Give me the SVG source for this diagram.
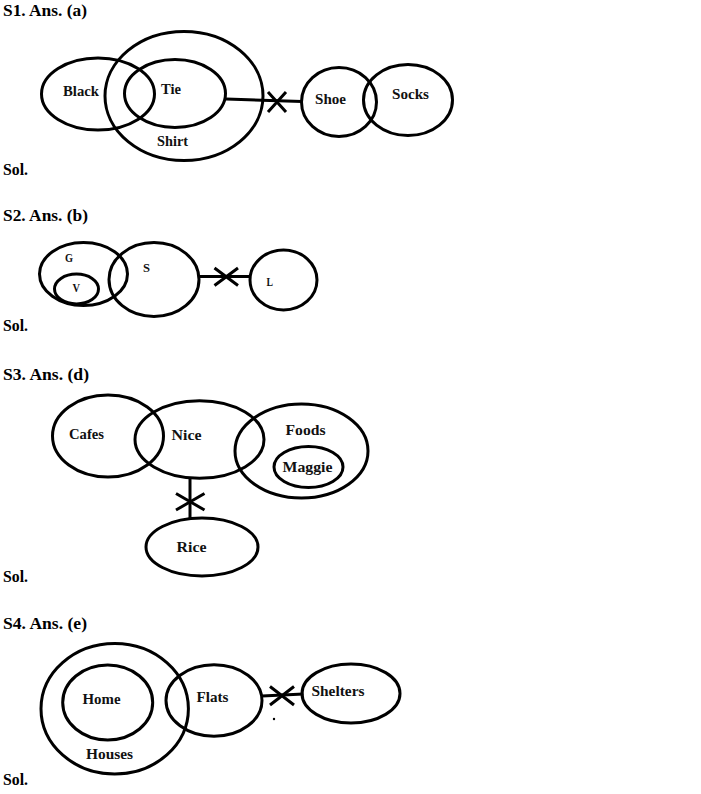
<svg xmlns="http://www.w3.org/2000/svg" width="701" height="794" viewBox="0 0 701 794">
<style>
.e{fill:none;stroke:#000;stroke-width:3}
.c{fill:none;stroke:#000;stroke-width:3}
.t{font-family:"Liberation Serif","DejaVu Serif",serif;font-weight:bold;font-size:16px;fill:#000}
.l{font-family:"Liberation Serif","DejaVu Serif",serif;font-weight:bold;font-size:15px;fill:#111}
.s{font-family:"Liberation Serif","DejaVu Serif",serif;font-weight:bold;font-size:12px;fill:#111}
</style>
<rect width="701" height="794" fill="#fff"/>
<g id="headings">
<text class="t" x="3" y="16" textLength="84" lengthAdjust="spacingAndGlyphs">S1. Ans. (a)</text>
<text class="t" x="3" y="175" textLength="25" lengthAdjust="spacingAndGlyphs">Sol.</text>
<text class="t" x="3" y="221" textLength="85" lengthAdjust="spacingAndGlyphs">S2. Ans. (b)</text>
<text class="t" x="3" y="331" textLength="25" lengthAdjust="spacingAndGlyphs">Sol.</text>
<text class="t" x="3" y="380" textLength="86" lengthAdjust="spacingAndGlyphs">S3. Ans. (d)</text>
<text class="t" x="3" y="582" textLength="25" lengthAdjust="spacingAndGlyphs">Sol.</text>
<text class="t" x="3" y="629" textLength="84" lengthAdjust="spacingAndGlyphs">S4. Ans. (e)</text>
<text class="t" x="3" y="785" textLength="25" lengthAdjust="spacingAndGlyphs">Sol.</text>
</g>
<g id="s1-black"><ellipse class="e" cx="98" cy="94" rx="56.5" ry="36"/><text class="l" x="63" y="96" textLength="36" lengthAdjust="spacingAndGlyphs">Black</text></g>
<g id="s1-shirt"><ellipse class="e" cx="184" cy="96" rx="79" ry="64.5"/><text class="l" x="157" y="146" textLength="31" lengthAdjust="spacingAndGlyphs">Shirt</text></g>
<g id="s1-tie"><ellipse class="e" cx="175" cy="93.5" rx="50.5" ry="34"/><text class="l" x="161" y="94" textLength="20" lengthAdjust="spacingAndGlyphs">Tie</text></g>
<g id="s1-shoe"><ellipse class="e" cx="339" cy="102" rx="37.5" ry="34.5"/><text class="l" x="315" y="104" textLength="31" lengthAdjust="spacingAndGlyphs">Shoe</text></g>
<g id="s1-socks"><ellipse class="e" cx="408" cy="100" rx="44.5" ry="35.5"/><text class="l" x="392" y="99" textLength="37" lengthAdjust="spacingAndGlyphs">Socks</text></g>
<g id="s2-g"><ellipse class="e" cx="83.5" cy="274" rx="44" ry="31.5"/><text class="s" x="65" y="262" textLength="8" lengthAdjust="spacingAndGlyphs">G</text></g>
<g id="s2-v"><ellipse class="e" cx="76.5" cy="289" rx="22" ry="15"/><text class="s" x="72.5" y="292" textLength="7.5" lengthAdjust="spacingAndGlyphs">V</text></g>
<g id="s2-s"><ellipse class="e" cx="154" cy="279.5" rx="45" ry="37"/><text class="s" x="143" y="272" textLength="7" lengthAdjust="spacingAndGlyphs">S</text></g>
<g id="s2-l"><ellipse class="e" cx="283.5" cy="280" rx="33.5" ry="30"/><text class="s" x="266.5" y="286" textLength="6.5" lengthAdjust="spacingAndGlyphs">L</text></g>
<g id="s3-cafes"><ellipse class="e" cx="108" cy="436" rx="55.5" ry="41"/><text class="l" x="69" y="439" textLength="35" lengthAdjust="spacingAndGlyphs">Cafes</text></g>
<g id="s3-nice"><ellipse class="e" cx="199.5" cy="439.5" rx="64.5" ry="38.8"/><text class="l" x="171.5" y="440" textLength="30" lengthAdjust="spacingAndGlyphs">Nice</text></g>
<g id="s3-foods"><ellipse class="e" cx="301.5" cy="451" rx="66.5" ry="47"/><text class="l" x="285.5" y="434.5" textLength="40" lengthAdjust="spacingAndGlyphs">Foods</text></g>
<g id="s3-maggie"><ellipse class="e" cx="308.5" cy="467" rx="34.5" ry="20.5"/><text class="l" x="282.5" y="472" textLength="50" lengthAdjust="spacingAndGlyphs">Maggie</text></g>
<g id="s3-rice"><ellipse class="e" cx="202" cy="547" rx="56" ry="29"/><text class="l" x="176.5" y="552" textLength="30" lengthAdjust="spacingAndGlyphs">Rice</text></g>
<g id="s4-houses"><ellipse class="e" cx="114.7" cy="708.7" rx="73.7" ry="65.3"/><text class="l" x="86" y="758.5" textLength="47" lengthAdjust="spacingAndGlyphs">Houses</text></g>
<g id="s4-home"><ellipse class="e" cx="107.7" cy="702.5" rx="45" ry="37.5"/><text class="l" x="82.5" y="703.5" textLength="38" lengthAdjust="spacingAndGlyphs">Home</text></g>
<g id="s4-flats"><ellipse class="e" cx="214" cy="700.5" rx="48" ry="35.8"/><text class="l" x="196.5" y="702" textLength="32" lengthAdjust="spacingAndGlyphs">Flats</text></g>
<g id="s4-shelters"><ellipse class="e" cx="351" cy="693.5" rx="49" ry="29.5"/><text class="l" x="311.5" y="696" textLength="53" lengthAdjust="spacingAndGlyphs">Shelters</text></g>
<g id="connectors">
<polyline class="c" points="226,99 302,101.5"/>
<path class="c" d="M268,92 L286,112 M286,92 L268,112"/>
<polyline class="c" points="199,276.5 250,276.5"/>
<path class="c" d="M214.5,268 L238,285.5 M238,268 L214.5,285.5"/>
<polyline class="c" points="190,478.5 190,519.5"/>
<path class="c" d="M176,493.5 L204.5,510 M204.5,493.5 L176,510"/>
<polyline class="c" points="262,696 303.5,694"/>
<path class="c" d="M270,686.5 L294,705 M294,686.5 L270,705"/>
<circle cx="274" cy="719" r="1.2" fill="#000"/>
</g>
</svg>
